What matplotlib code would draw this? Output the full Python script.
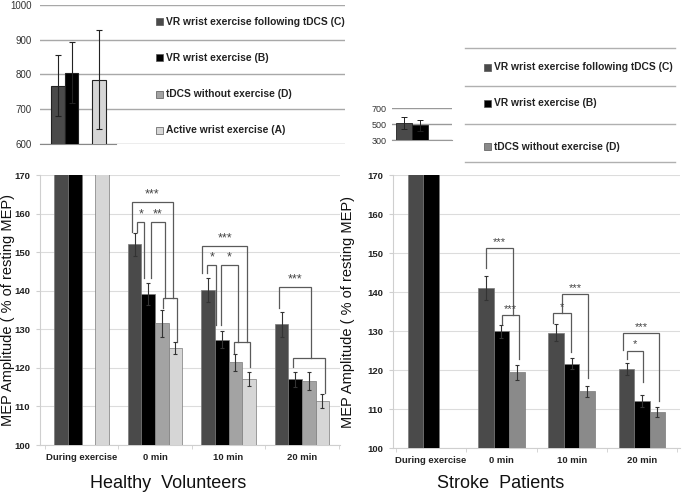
import matplotlib
matplotlib.use("Agg")
import matplotlib.pyplot as plt
from matplotlib.patches import Rectangle
from matplotlib.lines import Line2D
import numpy as np

plt.rcParams['font.family'] = ['Liberation Sans', 'DejaVu Sans']

W, H = 685, 494

# ---------------- data ----------------
groups = ["During exercise", "0 min", "10 min", "20 min"]
legend_healthy = ["VR wrist exercise following tDCS (C)", "VR wrist exercise (B)",
                  "tDCS without exercise (D)", "Active wrist exercise (A)"]
legend_stroke = ["VR wrist exercise following tDCS (C)", "VR wrist exercise (B)",
                 "tDCS without exercise (D)"]

# raw MEP during exercise (insets)
inset_h_vals = [768, 805, np.nan, 785]
inset_h_err = [88, 88, 0, 143]
inset_s_vals = [510, 482]
inset_s_err = [75, 70]

# healthy volunteers, % of resting MEP  (C, B, D, A); "during" bars exceed axis
h_C = [200, 152.0, 140.2, 131.3]
h_B = [200, 139.2, 127.3, 117.0]
h_D = [np.nan, 131.6, 121.5, 116.6]
h_A = [200, 125.2, 117.2, 111.5]
h_C_err = [0, 3.0, 3.0, 3.2]
h_B_err = [0, 2.9, 2.2, 2.0]
h_D_err = [0, 3.5, 2.2, 2.4]
h_A_err = [0, 1.5, 1.8, 1.8]

# stroke patients (C, B, D)
s_C = [200, 141.0, 129.6, 120.2]
s_B = [200, 129.9, 121.6, 112.0]
s_D = [np.nan, 119.4, 114.5, 109.2]
s_C_err = [0, 3.0, 2.2, 1.5]
s_B_err = [0, 1.7, 1.4, 1.5]
s_D_err = [0, 2.0, 1.5, 1.2]

# significance brackets: group, left pos, right pos (in bar units), top, left end, right end, label
h_brackets = [
    (1, -0.19, 2.82, 163.1, 155.3, 138.0, "***"),
    (1, 0.17, 0.71, 157.9, 155.3, 143.2, "*"),
    (1, 1.17, 2.27, 157.9, 143.2, 138.0, "**"),
    (1, 2.07, 3.10, 138.0, 135.4, 126.8, ""),
    (2, -0.45, 2.89, 151.7, 144.5, 126.8, "***"),
    (2, -0.06, 0.59, 146.7, 144.5, 131.0, "*"),
    (2, 0.98, 2.18, 146.7, 131.0, 126.8, "*"),
    (2, 1.92, 3.07, 126.8, 123.9, 120.3, ""),
    (3, -0.19, 2.14, 141.0, 135.4, 122.5, "***"),
    (3, 0.81, 3.20, 122.5, 120.3, 113.4, ""),
]
s_brackets = [
    (1, 0.00, 1.73, 151.2, 146.1, 134.1, "***"),
    (1, 1.05, 2.12, 134.1, 131.7, 122.9, "***"),
    (2, 0.40, 2.05, 139.4, 134.6, 117.9, "***"),
    (2, -0.20, 0.98, 134.6, 132.0, 124.7, "*"),
    (3, -0.25, 2.12, 129.4, 125.2, 112.0, "***"),
    (3, 0.00, 1.08, 125.0, 122.9, 117.0, "*"),
]

colC, colB, colA = "#4a4a4a", "#000000", "#d6d6d6"
colD_h, colD_s = "#a3a3a3", "#8a8a8a"
line_c = "#5a5a5a"

fig = plt.figure(figsize=(W / 100, H / 100), dpi=100)


def rect(x0, y0, x1, y1):
    return [x0 / W, 1 - y1 / H, (x1 - x0) / W, (y1 - y0) / H]


tick_font = dict(family='Liberation Sans', weight='bold', size=6.8)

# ---------------- left inset ----------------
ax1 = fig.add_axes(rect(40, 5, 345, 144))
px_per = 13.74
x0u = -1.3
ax1.set_xlim(x0u, x0u + 305 / px_per)
ax1.set_ylim(600, 1000)
pos = np.arange(4)
cols_in = [colC, colB, colD_h, colA]
for i in range(4):
    if np.isnan(inset_h_vals[i]):
        continue
    ax1.bar(pos[i], inset_h_vals[i], width=1.0, color=cols_in[i], edgecolor="#222222",
            linewidth=0.8, zorder=3, bottom=0)
    ax1.errorbar(pos[i], inset_h_vals[i], yerr=inset_h_err[i], color="#222222",
                 elinewidth=0.8, capsize=2.5, capthick=0.8, zorder=4, fmt='none')
ax1.set_yticks([600, 700, 800, 900, 1000])
ax1.yaxis.grid(True, color="#a8a8a8", linewidth=1.0, zorder=0)
ax1.set_axisbelow(True)
for s in ["top", "right", "left"]:
    ax1.spines[s].set_visible(False)
ax1.spines["bottom"].set_bounds(x0u, 4.23)
ax1.spines["bottom"].set_color("#888888")
ax1.set_xticks([])
ax1.tick_params(axis='y', length=0, labelsize=7, colors="#333333", pad=6)

LEG_FS = 7.4
# left legend
for k, (lab, c) in enumerate(zip(legend_healthy, cols_in)):
    yy = [22, 58, 94, 130][k]
    fig.patches.append(Rectangle((156 / W, 1 - (yy + 3.5) / H), 7 / W, 7 / H,
                                 transform=fig.transFigure, facecolor=c,
                                 edgecolor="#555555", linewidth=0.5))
    fig.text(166 / W, 1 - yy / H, lab, fontsize=LEG_FS, weight='bold', va='center',
             ha='left', color="#222222")

# ---------------- right inset ----------------
ax3 = fig.add_axes(rect(392, 108, 452, 140))
ax3.set_xlim(-0.75, 2.95)
ax3.set_ylim(300, 700)
for i, c in enumerate([colC, colB]):
    ax3.bar(i, inset_s_vals[i], width=1.0, color=c, edgecolor="#222222",
            linewidth=0.6, zorder=3)
    ax3.errorbar(i, inset_s_vals[i], yerr=inset_s_err[i], color="#222222",
                 elinewidth=0.7, capsize=2, capthick=0.7, zorder=4, fmt='none')
ax3.set_yticks([300, 500, 700])
ax3.yaxis.grid(True, color="#999999", linewidth=1.0, zorder=0)
ax3.set_axisbelow(True)
for s in ["top", "right", "left"]:
    ax3.spines[s].set_visible(False)
ax3.spines["bottom"].set_color("#999999")
ax3.set_xticks([])
ax3.tick_params(axis='y', length=0, labelsize=6.5, colors="#333333", pad=4)

# right legend lines and entries
for yy in [48, 86, 124, 162]:
    fig.add_artist(Line2D([465 / W, 675 / W], [1 - yy / H, 1 - yy / H],
                          transform=fig.transFigure, color="#b0b0b0", linewidth=1.0))
for k, (lab, c) in enumerate(zip(legend_stroke, [colC, colB, colD_s])):
    yy = [67, 103, 147][k]
    fig.patches.append(Rectangle((484 / W, 1 - (yy + 3.5) / H), 7 / W, 7 / H,
                                 transform=fig.transFigure, facecolor=c,
                                 edgecolor="#555555", linewidth=0.5))
    fig.text(494 / W, 1 - yy / H, lab, fontsize=LEG_FS, weight='bold', va='center',
             ha='left', color="#222222")


# ---------------- main axes ----------------
def main_axes(r, xlim, w, series, errs, colors, brackets, ylabel, label_x, star_fs):
    ax = fig.add_axes(r)
    ax.set_xlim(*xlim)
    ax.set_ylim(100, 170)
    n = len(series)
    x = np.arange(len(groups))
    offs = (np.arange(n) - (n - 1) / 2) * w
    for j in range(n):
        vals = np.array(series[j], dtype=float)
        e = np.array(errs[j], dtype=float)
        ax.bar(x + offs[j], vals, width=w, color=colors[j], edgecolor="#7a7a7a",
               linewidth=0.5, zorder=3)
        m = ~np.isnan(vals) & (e > 0)
        ax.errorbar((x + offs[j])[m], vals[m], yerr=e[m], fmt='none', ecolor="#333333",
                    elinewidth=0.8, capsize=1.5, capthick=0.8, zorder=4)
    for (g, l, rr, top, le, re, lab) in brackets:
        xl = g + offs[0] + l * w
        xr = g + offs[0] + rr * w
        ax.plot([xl, xl, xr, xr], [le, top, top, re], color=line_c, linewidth=0.9,
                zorder=5, solid_joinstyle='miter')
        if lab:
            ax.text((xl + xr) / 2, top + 0.3, lab, ha='center', va='bottom',
                    fontsize=star_fs, color="#444444", zorder=6)
    ax.set_yticks(np.arange(100, 171, 10))
    ax.yaxis.grid(True, color="#dcdcdc", linewidth=0.8, zorder=0)
    ax.set_axisbelow(True)
    for s in ["top", "right"]:
        ax.spines[s].set_visible(False)
    ax.spines["left"].set_color("#cfcfcf")
    ax.spines["bottom"].set_color("#cfcfcf")
    ax.set_xticks(x)
    ax.set_xticklabels(groups, fontdict=tick_font, color="#222222")
    ax.set_xticks(np.arange(-0.5, len(groups), 1.0), minor=True)
    ax.tick_params(axis='x', which='major', length=0, pad=6)
    ax.tick_params(axis='x', which='minor', length=3, color="#cfcfcf")
    ax.tick_params(axis='y', length=3, color="#cfcfcf", pad=4)
    for t in ax.get_yticklabels():
        t.set_fontproperties(tick_font)
        t.set_color("#222222")
    ax.set_ylabel(ylabel, fontsize=10.5, color="#111111", va='center')
    ax.yaxis.set_label_coords(label_x, 0.5)
    return ax


axL = main_axes(rect(40, 175, 340, 445), (-0.565, 3.517), 0.184,
                [h_C, h_B, h_D, h_A], [h_C_err, h_B_err, h_D_err, h_A_err],
                [colC, colB, colD_h, colA], h_brackets,
                "MEP Amplitude ( % of resting MEP)", (8 - 40) / 300, 9)
axR = main_axes(rect(393, 175, 680, 448), (-0.54, 3.54), 0.22,
                [s_C, s_B, s_D], [s_C_err, s_B_err, s_D_err],
                [colC, colB, colD_s], s_brackets,
                "MEP Amplitude ( % of resting MEP)", (348 - 393) / 287, 8)

fig.text(168 / W, 1 - 483 / H, "Healthy  Volunteers", fontsize=13, ha='center',
         va='center', color="#111111")
fig.text(501 / W, 1 - 483 / H, "Stroke  Patients", fontsize=13, ha='center',
         va='center', color="#111111")

fig.savefig("out.png", dpi=100)
